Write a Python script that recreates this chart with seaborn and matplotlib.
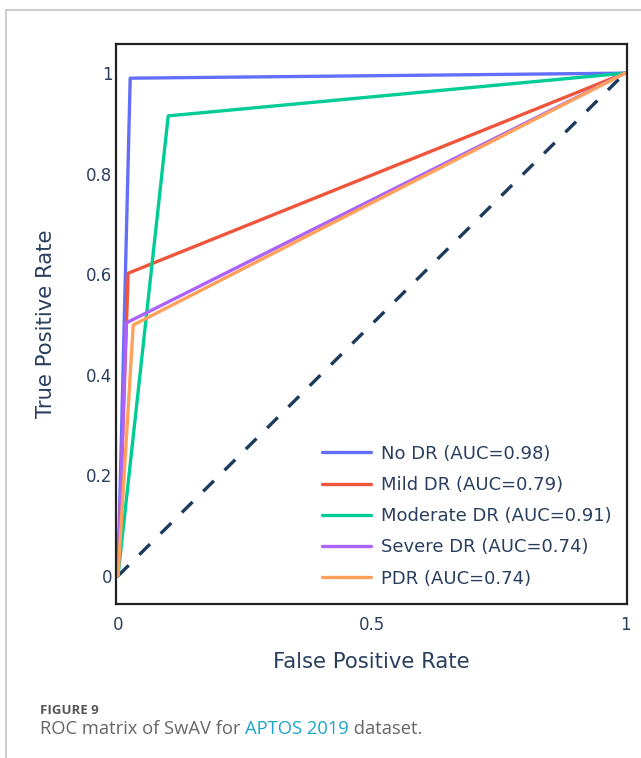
import matplotlib
matplotlib.use("Agg")
import matplotlib.pyplot as plt
import seaborn as sns
import pandas as pd
from matplotlib.lines import Line2D

# ---- data ----
classes = ["No DR", "Mild DR", "Moderate DR", "Severe DR", "PDR"]
auc = [0.98, 0.79, 0.91, 0.74, 0.74]
fpr = [
    [0.0, 0.024, 1.0],
    [0.0, 0.020, 1.0],
    [0.0, 0.099, 1.0],
    [0.0, 0.016, 1.0],
    [0.0, 0.030, 1.0],
]
tpr = [
    [0.0, 0.990, 1.0],
    [0.0, 0.602, 1.0],
    [0.0, 0.915, 1.0],
    [0.0, 0.503, 1.0],
    [0.0, 0.499, 1.0],
]
colors = ["#636efa", "#EF553B", "#00cc96", "#ab63fa", "#FFA15A"]
x_ticks = [0, 0.5, 1]
x_ticklabels = ["0", "0.5", "1"]
y_ticks = [0, 0.2, 0.4, 0.6, 0.8, 1]
y_ticklabels = ["0", "0.2", "0.4", "0.6", "0.8", "1"]

rows = []
for c, a, xs, ys in zip(classes, auc, fpr, tpr):
    lab = f"{c} (AUC={a:.2f})"
    for i, (x, y) in enumerate(zip(xs, ys)):
        rows.append({"FPR": x, "TPR": y, "label": lab, "order": i})
df = pd.DataFrame(rows)
labels = [f"{c} (AUC={a:.2f})" for c, a in zip(classes, auc)]

sns.set_style("white")
plt.rcParams["font.family"] = ["DejaVu Sans"]
ink = "#2a3f5f"

fig = plt.figure(figsize=(6.41, 7.58), dpi=100)
ax = fig.add_axes([116 / 641, 1 - 604 / 758, 511 / 641, 560 / 758])

# diagonal
ax.plot([0, 1], [0, 1], linestyle=(0, (4.5, 4.5)), color="#1b3a5c", lw=2.4, zorder=1)

sns.lineplot(data=df, x="FPR", y="TPR", hue="label", hue_order=labels,
             palette=colors, sort=False, estimator=None, units="label",
             lw=2.4, ax=ax, legend=False, zorder=2)

ax.set_xlim(-0.004, 1.004)
ax.set_ylim(-0.056, 1.058)
ax.set_xticks(x_ticks)
ax.set_xticklabels(x_ticklabels)
ax.set_yticks(y_ticks)
ax.set_yticklabels(y_ticklabels)
ax.tick_params(axis="both", direction="in", length=5.5, width=1.3, color="#555555",
               labelsize=12, labelcolor=ink)
ax.tick_params(axis="y", pad=2.5)
ax.tick_params(axis="x", pad=8.5, length=4)
for s in ax.spines.values():
    s.set_color("#222222")
    s.set_linewidth(1.6)
ax.set_xlabel("False Positive Rate", fontsize=15.2, color=ink, labelpad=13)
ax.set_ylabel("True Positive Rate", fontsize=15.2, color=ink, labelpad=22)

handles = [Line2D([0], [0], color=c, lw=2.4) for c in colors]
leg = ax.legend(handles, labels, loc="lower right", bbox_to_anchor=(1.002, 0.0),
                frameon=False, fontsize=13, handlelength=2.75, handletextpad=0.55,
                labelspacing=0.735, labelcolor=ink)

# page border
fig.add_artist(Line2D([6 / 641, 1], [1 - 10 / 758, 1 - 10 / 758], transform=fig.transFigure,
                      color="#cccccc", lw=1.5))
fig.add_artist(Line2D([6 / 641, 6 / 641], [0, 1 - 10 / 758], transform=fig.transFigure,
                      color="#cccccc", lw=1.5))

# caption
fig.text(40 / 641, 1 - 711 / 758, "FIGURE 9", fontsize=9.5, color="#555555",
         fontweight="bold", va="center", family=["Open Sans"])
cap_y = 1 - 729 / 758
t1 = fig.text(40 / 641, cap_y, "ROC matrix of SwAV for ", fontsize=13.2, color="#666666",
              va="center", family=["Open Sans"])
fig.canvas.draw()
r = fig.canvas.get_renderer()
bb = t1.get_window_extent(r)
t2 = fig.text(bb.x1 / fig.bbox.width, cap_y, "APTOS 2019", fontsize=13.2, color="#1aa6c8",
              va="center", family=["Open Sans"])
bb2 = t2.get_window_extent(r)
fig.text(bb2.x1 / fig.bbox.width, cap_y, " dataset.", fontsize=13.2, color="#666666",
         va="center", family=["Open Sans"])

fig.savefig("out.png", dpi=100)
